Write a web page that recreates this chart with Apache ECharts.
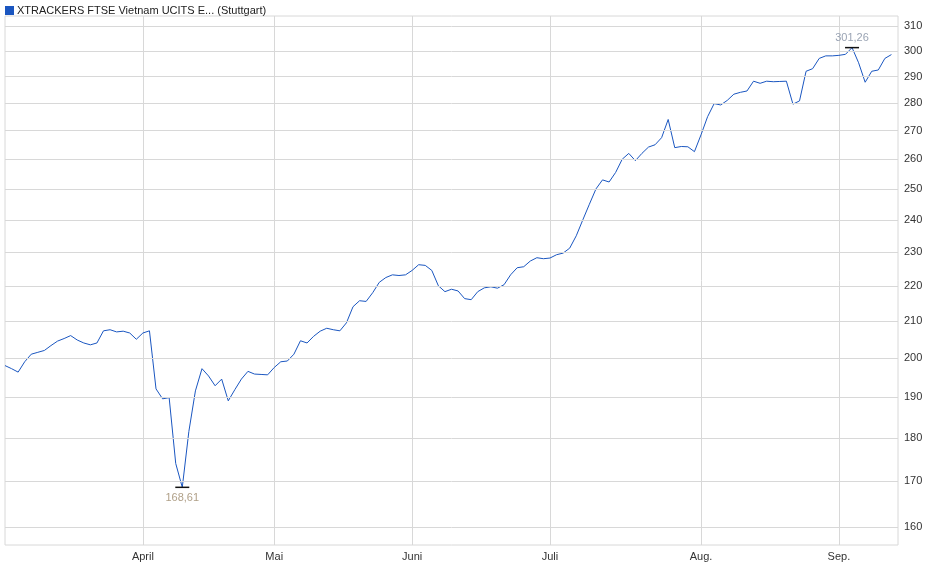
<!DOCTYPE html>
<html>
<head>
<meta charset="utf-8">
<script src="https://cdn.jsdelivr.net/npm/echarts@6/dist/echarts.min.js"></script>
<style>
  html, body { margin: 0; padding: 0; background: #fff; }
  #chart { width: 940px; height: 579px; }
</style>
</head>
<body>
<div id="chart"></div>
<script>
// trading days (Stuttgart), 2025-03-03 .. 2025-09-12 (last day has no close yet)
var firstDay = '2025-03-03';
var lastDay = '2025-09-12';
var holidays = ['2025-04-18', '2025-04-21', '2025-05-01'];
var monthNames = ['Jan.', 'Feb.', 'März', 'April', 'Mai', 'Juni', 'Juli', 'Aug.', 'Sep.', 'Okt.', 'Nov.', 'Dez.'];

// closing prices, one per trading day
var prices = [
    198, 197.2, 196.3, 199, 201, 201.5, 202, 203.3, 204.5, 205.2,
    206, 204.8, 204, 203.5, 204, 207.3, 207.6, 207, 207.2, 206.7,
    205, 206.7, 207.3, 192, 189.5, 189.8, 174, 168.61, 181.5, 191.5,
    197.2, 195.3, 192.8, 194.5, 189, 191.8, 194.5, 196.5, 195.8, 195.7,
    195.6, 197.5, 199, 199.2, 201, 204.6, 204, 205.8, 207.2, 208,
    207.6, 207.3, 209.5, 214, 215.7, 215.5, 218, 221, 222.4, 223.2,
    223, 223.2, 224.5, 226.2, 226, 224.5, 220, 218.3, 219, 218.5,
    216.3, 216, 218.3, 219.4, 219.7, 219.3, 220.3, 223.2, 225.3, 225.6,
    227.3, 228.3, 228, 228.2, 229.2, 229.7, 231.2, 235, 240, 245,
    250, 253, 252.3, 255.5, 260, 262, 259.5, 262, 264.2, 265,
    267.5, 274, 264, 264.4, 264.3, 262.6, 268.5, 275, 279.8, 279.3,
    281, 283.3, 284, 284.5, 288.2, 287.4, 288.2, 288, 288.1, 288.2,
    279.6, 280.8, 292, 293, 297, 298, 298, 298.2, 298.6, 301.26,
    295.3, 287.8, 292, 292.5, 297, 298.5, null
];

var yTicks = [160, 170, 180, 190, 200, 210, 220, 230, 240, 250, 260, 270, 280, 290, 300, 310];

var days = [];
var d = new Date(firstDay + 'T12:00:00Z');
var end = new Date(lastDay + 'T12:00:00Z');
while (d <= end) {
    var wd = d.getUTCDay();
    var s = d.toISOString().slice(0, 10);
    if (wd !== 0 && wd !== 6 && holidays.indexOf(s) < 0) days.push(s);
    d.setUTCDate(d.getUTCDate() + 1);
}

function isMonthStart(i) {
    return i > 0 && days[i].slice(5, 7) !== days[i - 1].slice(5, 7);
}

var myChart = echarts.init(document.getElementById('chart'));
var option = {
    animation: false,
    textStyle: { fontFamily: 'Liberation Sans, Arial, sans-serif' },
    legend: {
        left: 0,
        top: 0,
        itemWidth: 9,
        itemHeight: 9,
        itemGap: 4,
        icon: 'rect',
        textStyle: { fontSize: 11, color: '#222', padding: [0, 0, 0, -2] },
        data: ['XTRACKERS FTSE Vietnam UCITS E... (Stuttgart)']
    },
    grid: {
        left: 5,
        right: 42,
        top: 16,
        bottom: 34,
        show: true,
        borderColor: '#d8d8d8',
        borderWidth: 1
    },
    xAxis: {
        type: 'category',
        data: days,
        boundaryGap: false,
        axisLine: { show: false },
        axisTick: { show: false },
        axisLabel: {
            interval: function (i) { return isMonthStart(i); },
            fontSize: 11,
            color: '#333',
            margin: 6,
            formatter: function (v) { return monthNames[parseInt(v.slice(5, 7), 10) - 1]; }
        },
        splitLine: {
            show: true,
            interval: function (i) { return isMonthStart(i); },
            lineStyle: { color: '#d8d8d8' }
        }
    },
    yAxis: {
        type: 'log',
        position: 'right',
        min: 156.25,
        max: 314.1,
        axisLine: { show: false },
        axisTick: { show: false },
        axisLabel: { show: false },
        splitLine: { show: false }
    },
    series: [{
        name: 'XTRACKERS FTSE Vietnam UCITS E... (Stuttgart)',
        type: 'line',
        data: prices,
        showSymbol: false,
        color: '#1a56c0',
        lineStyle: { width: 1 },
        markLine: {
            silent: true,
            symbol: 'none',
            lineStyle: { color: '#d8d8d8', type: 'solid', width: 1 },
            label: {
                position: 'end',
                fontSize: 11,
                color: '#333',
                distance: 6,
                formatter: function (p) { return p.value; }
            },
            data: yTicks.map(function (t) { return { yAxis: t }; })
        },
        markPoint: {
            symbol: 'rect',
            symbolSize: [14, 1.5],
            itemStyle: { color: '#111' },
            label: {
                fontSize: 11,
                formatter: function (p) { return p.value.toFixed(2).replace('.', ','); }
            },
            data: [
                { type: 'max', label: { position: 'top', distance: 3, color: '#9aa4b4' } },
                { type: 'min', label: { position: 'bottom', distance: 4, color: '#b0a088' } }
            ]
        }
    }]
};
myChart.setOption(option);
</script>
</body>
</html>
